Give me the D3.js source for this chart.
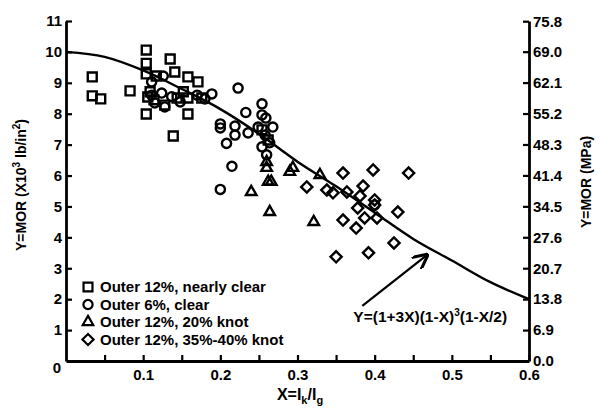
<!DOCTYPE html>
<html>
<head>
<meta charset="utf-8">
<script src="https://cdn.jsdelivr.net/npm/d3@7"></script>
<style>
  body { margin: 0; background: #fff; }
  text { font-family: "Liberation Sans", Arial, sans-serif; font-weight: bold; fill: #000; }
</style>
</head>
<body>
<script>
// X = Ik/Ig , Y = MOR (10^3 lb/in^2)
let squares = [
  [0.034, 9.19], [0.034, 8.58], [0.045, 8.48], [0.083, 8.74], [0.104, 10.06], [0.104, 9.63],
  [0.135, 9.77], [0.104, 9.29], [0.117, 9.22], [0.141, 9.35], [0.158, 9.19], [0.171, 9.03],
  [0.109, 8.71], [0.106, 8.54], [0.114, 8.45], [0.128, 8.28], [0.144, 8.51], [0.152, 8.71],
  [0.158, 8.51], [0.176, 8.51], [0.104, 7.99], [0.158, 7.99], [0.139, 7.28], [0.254, 7.48],
  [0.262, 7.15]
];
let circles = [
  [0.189, 8.64], [0.223, 8.83], [0.233, 8.04], [0.200, 7.67], [0.200, 7.54], [0.219, 7.60],
  [0.219, 7.31], [0.236, 7.38], [0.208, 7.04], [0.215, 6.30], [0.200, 5.55], [0.124, 8.67],
  [0.137, 8.55], [0.148, 8.38], [0.170, 8.60], [0.180, 8.48], [0.111, 8.60], [0.115, 8.35],
  [0.128, 8.22], [0.126, 9.22], [0.111, 9.03], [0.254, 8.32], [0.254, 7.96], [0.259, 7.86],
  [0.268, 7.57], [0.249, 7.57], [0.258, 7.31], [0.254, 6.93], [0.264, 7.06], [0.260, 6.67],
  [0.400, 5.05]
];
let triangles = [
  [0.260, 6.25], [0.262, 5.80], [0.266, 5.80], [0.240, 5.47], [0.264, 4.82], [0.290, 6.12],
  [0.294, 6.25], [0.329, 6.02], [0.321, 4.50], [0.260, 6.44]
];
let diamonds = [
  [0.312, 5.63], [0.338, 5.53], [0.346, 5.44], [0.359, 6.08], [0.398, 6.18], [0.444, 6.08],
  [0.364, 5.47], [0.385, 5.66], [0.381, 5.34], [0.400, 5.21], [0.400, 5.05], [0.378, 4.95],
  [0.430, 4.82], [0.359, 4.56], [0.387, 4.63], [0.403, 4.63], [0.376, 4.30], [0.425, 3.82],
  [0.350, 3.37], [0.392, 3.50]
];
// fitted curve
let curveX = [0, 0.05, 0.1, 0.15, 0.2, 0.25, 0.3, 0.35, 0.4, 0.45, 0.5, 0.55, 0.6];
let curveY = [10.0, 9.84, 9.40, 8.80, 8.15, 7.35, 6.45, 5.65, 4.80, 3.95, 3.25, 2.55, 2.0];

let xTicks = [0.05, 0.1, 0.15, 0.2, 0.25, 0.3, 0.35, 0.4, 0.45, 0.5, 0.55, 0.6];
let yTicks = [1, 2, 3, 4, 5, 6, 7, 8, 9, 10, 11];
let mpaTicks = [0, 6.9, 13.8, 20.7, 27.6, 34.5, 41.4, 48.3, 55.2, 62.1, 69.0, 75.8];
let legendLabels = ['Outer 12%, nearly clear', 'Outer 6%, clear', 'Outer 12%, 20% knot', 'Outer 12%, 35%-40% knot'];

let width = 597, height = 414;
let svg = d3.select('body').append('svg')
  .attr('width', width)
  .attr('height', height);

let x = d3.scaleLinear().domain([0, 0.6]).range([66, 529]);
let y = d3.scaleLinear().domain([0, 11]).range([361, 21]);
let yMpa = d3.scaleLinear().domain([0, 11 * 6.895]).range([361, 21]);

// axes, ticks pointing inward
let xAxis = d3.axisBottom(x).tickValues(xTicks).tickSize(-6).tickSizeOuter(0).tickPadding(8)
  .tickFormat(function (d) { return Math.abs(d * 10 - Math.round(d * 10)) < 1e-6 ? d3.format('.1f')(d) : ''; });
let yAxis = d3.axisLeft(y).tickValues(yTicks).tickSize(-6).tickSizeOuter(0).tickPadding(4);
let rAxis = d3.axisRight(yMpa).tickValues(mpaTicks).tickSize(-6).tickSizeOuter(0).tickPadding(4)
  .tickFormat(d3.format('.1f'));

function styleAxis(g) {
  g.select('.domain').attr('stroke', '#000').attr('stroke-width', 2.8);
  g.selectAll('.tick line').attr('stroke', '#000').attr('stroke-width', 2.2);
  g.selectAll('.tick text').attr('font-size', 15).attr('font-family', '"Liberation Sans", Arial, sans-serif').attr('font-weight', 'bold');
}

svg.append('g').attr('transform', 'translate(0,' + y(0) + ')').call(xAxis).call(styleAxis);
svg.append('g').attr('transform', 'translate(' + x(0) + ',0)').call(yAxis).call(styleAxis);
svg.append('g').attr('transform', 'translate(' + x(0.6) + ',0)').call(rAxis).call(styleAxis);

svg.append('text')
  .attr('x', x(0) - 9).attr('y', y(0) + 12)
  .attr('text-anchor', 'middle').attr('font-size', 15)
  .text('0');

// axis titles
svg.append('text')
  .attr('transform', 'translate(26,' + 185 + ') rotate(-90)')
  .attr('text-anchor', 'middle').attr('font-size', 14)
  .html('Y=MOR (X10<tspan dy="-6" font-size="10">3</tspan><tspan dy="6"> lb/in</tspan><tspan dy="-6" font-size="10">2</tspan><tspan dy="6">)</tspan>');

svg.append('text')
  .attr('transform', 'translate(591,' + 182 + ') rotate(-90)')
  .attr('text-anchor', 'middle').attr('font-size', 14)
  .text('Y=MOR (MPa)');

svg.append('text')
  .attr('x', 300).attr('y', 400)
  .attr('text-anchor', 'middle').attr('font-size', 16)
  .html('X=I<tspan dy="4" font-size="11">k</tspan><tspan dy="-4">/I</tspan><tspan dy="4" font-size="11">g</tspan>');

// curve
let line = d3.line()
  .x(function (d, i) { return x(curveX[i]); })
  .y(function (d) { return y(d); })
  .curve(d3.curveMonotoneX);

svg.append('path')
  .attr('d', line(curveY))
  .attr('fill', 'none')
  .attr('stroke', '#000')
  .attr('stroke-width', 2.4);

// markers
let shapes = [
  { data: squares, sym: d3.symbolSquare, size: 80, rot: 0 },
  { data: circles, sym: d3.symbolCircle, size: 66, rot: 0 },
  { data: triangles, sym: d3.symbolTriangle, size: 48, rot: 0 },
  { data: diamonds, sym: d3.symbolSquare, size: 62, rot: 45 }
];

shapes.forEach(function (s) {
  svg.append('g').selectAll('path')
    .data(s.data)
    .enter().append('path')
    .attr('d', d3.symbol().type(s.sym).size(s.size))
    .attr('transform', function (d) {
      return 'translate(' + x(d[0]) + ',' + y(d[1]) + ') rotate(' + s.rot + ')';
    })
    .attr('fill', 'none')
    .attr('stroke', '#000')
    .attr('stroke-width', 2.4);
});

// legend
let legend = svg.append('g').attr('transform', 'translate(88,287)');
legendLabels.forEach(function (lab, i) {
  let s = shapes[i];
  legend.append('path')
    .attr('d', d3.symbol().type(s.sym).size(s.size))
    .attr('transform', 'translate(0,' + (i * 17.5) + ') rotate(' + s.rot + ')')
    .attr('fill', 'none').attr('stroke', '#000').attr('stroke-width', 2.2);
  legend.append('text')
    .attr('x', 12).attr('y', i * 17.5 + 5)
    .attr('font-size', 15)
    .text(lab);
});

// equation annotation with arrow
let defs = svg.append('defs');
defs.append('marker')
  .attr('id', 'arr').attr('viewBox', '0 0 10 10').attr('refX', 9).attr('refY', 5)
  .attr('markerWidth', 7).attr('markerHeight', 7).attr('orient', 'auto')
  .append('path').attr('d', 'M0,0 L10,5 L0,10').attr('fill', 'none').attr('stroke', '#000').attr('stroke-width', 2);

svg.append('line')
  .attr('x1', x(0.384)).attr('y1', y(1.78))
  .attr('x2', x(0.468)).attr('y2', y(3.43))
  .attr('stroke', '#000').attr('stroke-width', 2.2)
  .attr('marker-end', 'url(#arr)');

svg.append('text')
  .attr('x', x(0.472)).attr('y', y(1.25))
  .attr('text-anchor', 'middle').attr('font-size', 15.5)
  .html('Y=(1+3X)(1-X)<tspan dy="-6" font-size="10">3</tspan><tspan dy="6">(1-X/2)</tspan>');
</script>
</body>
</html>
